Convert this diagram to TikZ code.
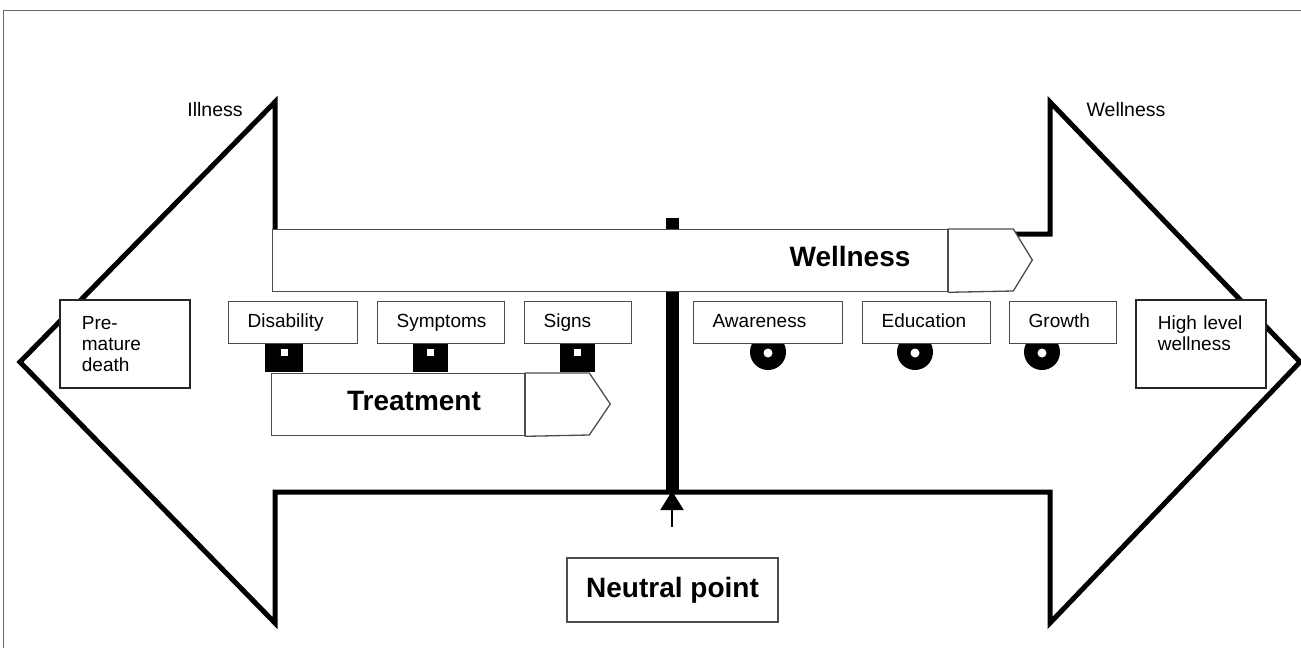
\documentclass[tikz,border=0pt]{standalone}
\usepackage{fontspec}
\setmainfont{Liberation Sans}
\usetikzlibrary{arrows.meta}
\tikzset{
  bigarrow/.style={draw=black, line width=5pt, line join=miter},
  barline/.style={draw=black!70, line width=1.3pt, fill=white},
  lbox/.style={draw=black!70, line width=1.3pt, fill=white, inner xsep=19pt, inner ysep=0pt,
     minimum height=42pt, anchor=north west, align=left, text height=14pt, text depth=4pt,
     font=\fontsize{19}{21}\selectfont},
  bigbox/.style={draw=black!85, line width=1.8pt, fill=white, inner xsep=22pt, inner ysep=0pt,
     minimum height=88pt, anchor=north west, align=left, text width=86pt, font=\fontsize{19}{21}\selectfont},
  boldlbl/.style={font=\fontsize{28}{30}\selectfont\bfseries, inner sep=0pt},
  toplbl/.style={font=\fontsize{19.5}{21}\selectfont, inner sep=0pt},
  sq/.style={fill=black},
  wheel/.style={fill=black},
}
\begin{document}
\begin{tikzpicture}[x=1pt,y=-1pt]
\useasboundingbox (0,0) rectangle (1301,648);
% frame
\draw[black!60, line width=1pt] (3,648) -- (3,10) -- (1301,10);
% big double arrow
\draw[bigarrow] (275,234) -- (275,102) -- (20,362) -- (275,623) -- (275,492) -- (1050,492)
  -- (1050,623) -- (1300,362) -- (1050,102) -- (1050,234) -- cycle;
% centre bar
\fill (666,218) rectangle (679,492);
% wheels under wellness boxes
\foreach \cx in {768,915,1042} {
  \fill[wheel] (\cx,352) circle (18);
  \fill[white] (\cx,353) circle (4.5);
}
% squares under illness boxes
\foreach \cx/\w in {284/38,430/35,577/35} {
  \fill[sq] (\cx-\w/2,340) rectangle (\cx+\w/2,372);
  \fill[white] (\cx-3.5,349) rectangle (\cx+3.5,356);
}
% wellness bar
\node[barline, minimum width=675pt, minimum height=62pt, inner sep=0pt, anchor=north west] (wbar) at (272,229) {};
\draw[barline] (wbar.north east) -- ++(65,0) -- ++(19,31) -- ++(-19,31) -- (wbar.south east) -- cycle;
\node[boldlbl] (wtxt) at (850,256) {Wellness};
% treatment bar
\node[barline, minimum width=253pt, minimum height=62pt, inner sep=0pt, anchor=north west] (tbar) at (271,373) {};
\draw[barline] (tbar.north east) -- ++(64,0) -- ++(21,31) -- ++(-21,31) -- (tbar.south east) -- cycle;
\node[boldlbl] (ttxt) at (414,401) {Treatment};
% small boxes
\node[lbox, text width=91pt] (dis) at (228,301) {Disability};
\node[lbox, text width=89pt] (sym) at (377,301) {Symptoms};
\node[lbox, text width=69pt] (sig) at (524,301) {Signs};
\node[lbox, text width=111pt] (awa) at (693,301) {Awareness};
\node[lbox, text width=90pt] (edu) at (862,301) {Education};
\node[lbox, text width=69pt] (gro) at (1009,301) {Growth};
% end boxes
\node[bigbox] (pmd) at (59,299) {Pre-\\mature\\death};
\node[bigbox] (hlw) at (1135,299) {High level\\wellness\\~};
% top labels
\node[toplbl] (ill) at (215,110) {Illness};
\node[toplbl] (wel) at (1126,110) {Wellness};
% neutral point
\node[draw=black!70, line width=1.3pt, minimum width=211pt, minimum height=64pt, inner sep=0pt,
  font=\fontsize{28}{30}\selectfont\bfseries] (np) at (672.5,590) {Neutral point};
\coordinate (npfoot) at (672,527);
\coordinate (nptip) at (672,491);
\draw[line width=2pt, -{Triangle[width=23pt,length=19pt]}] (npfoot) -- (nptip);
\end{tikzpicture}
\end{document}
